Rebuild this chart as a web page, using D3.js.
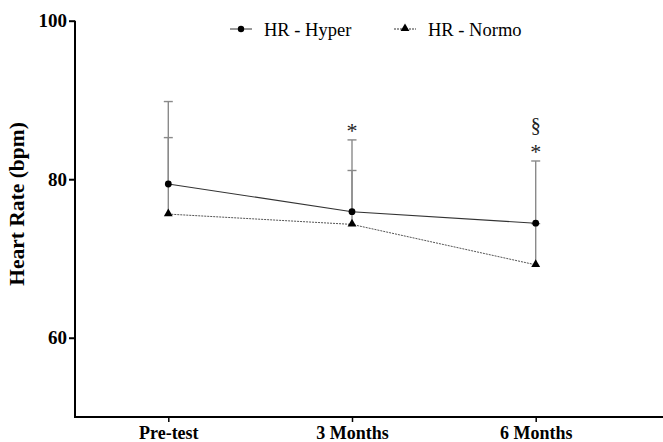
<!DOCTYPE html>
<html>
<head>
<meta charset="utf-8">
<script src="https://cdn.jsdelivr.net/npm/d3@7"></script>
<style>
    body { margin: 0; background: #fff; }
    svg { display: block; font-family: "Liberation Serif", "Times New Roman", serif; }
</style>
</head>
<body>
<div id="chart"></div>
<script>
// values
const categories = ["Pre-test", "3 Months", "6 Months"];
const hyperMean = [79.4, 75.9, 74.45];
const hyperSD = [10.4, 9.06, 7.85];
const normoMean = [75.6, 74.3, 69.2];
const normoSD = [9.65, 6.8, 5.2];
const yTicks = [60, 80, 100];
const markers = [
    {cat: "3 Months", text: "*"},
    {cat: "6 Months", text: "*"},
    {cat: "6 Months", text: "§"}
];

const width = 663, height = 442;

const svg = d3.select("#chart").append("svg")
    .attr("width", width)
    .attr("height", height);

const x = d3.scalePoint()
    .domain(categories)
    .range([168.3, 535.7]);

const y = d3.scaleLinear()
    .domain([50, 100])
    .range([417, 20.7]);

// axes
const yAxis = svg.append("g")
    .attr("transform", "translate(75,0)")
    .call(d3.axisLeft(y).tickValues(yTicks).tickSize(6).tickSizeOuter(0).tickPadding(2));
yAxis.select(".domain").attr("stroke-width", 2).attr("d", "M0," + y(100) + "V" + y(50));
yAxis.selectAll(".tick line").attr("stroke-width", 2);
yAxis.selectAll(".tick text")
    .attr("font-size", 19).attr("font-weight", "bold")
    .attr("font-family", "Liberation Serif").attr("fill", "#000");

const xAxis = svg.append("g")
    .attr("transform", "translate(0," + y(50) + ")")
    .call(d3.axisBottom(x).tickSize(5).tickSizeOuter(0).tickPadding(4));
xAxis.select(".domain").attr("stroke-width", 2).attr("d", "M74,0H663");
xAxis.selectAll(".tick line").attr("stroke-width", 1.5);
xAxis.selectAll(".tick text")
    .attr("font-size", 18).attr("font-weight", "bold")
    .attr("font-family", "Liberation Serif").attr("fill", "#000");

svg.append("text")
    .attr("transform", "translate(24,204) rotate(-90)")
    .attr("text-anchor", "middle")
    .attr("font-size", 21.5)
    .attr("font-weight", "bold")
    .text("Heart Rate (bpm)");

// error bars (upper only)
function errorBars(mean, sd) {
    const g = svg.append("g").attr("stroke", "#8a8a8a").attr("stroke-width", 1.4);
    categories.forEach((c, i) => {
        const top = y(mean[i] + sd[i]);
        g.append("line").attr("x1", x(c)).attr("x2", x(c))
            .attr("y1", y(mean[i])).attr("y2", top);
        g.append("line").attr("x1", x(c) - 4.5).attr("x2", x(c) + 4.5)
            .attr("y1", top).attr("y2", top);
    });
}
errorBars(hyperMean, hyperSD);
errorBars(normoMean, normoSD);

const line = d3.line()
    .x((d, i) => x(categories[i]))
    .y(d => y(d));

svg.append("path")
    .datum(normoMean)
    .attr("d", line)
    .attr("fill", "none")
    .attr("stroke", "#555")
    .attr("stroke-width", 1)
    .attr("stroke-dasharray", "2,1");

svg.append("path")
    .datum(hyperMean)
    .attr("d", line)
    .attr("fill", "none")
    .attr("stroke", "#333")
    .attr("stroke-width", 1.1);

const tri = d3.symbol().type(d3.symbolTriangle).size(34);

svg.selectAll(".normo")
    .data(normoMean).enter()
    .append("path")
    .attr("class", "normo")
    .attr("d", tri)
    .attr("transform", (d, i) => "translate(" + x(categories[i]) + "," + (y(d) - 0.5) + ")")
    .attr("fill", "#000");

svg.selectAll(".hyper")
    .data(hyperMean).enter()
    .append("circle")
    .attr("class", "hyper")
    .attr("cx", (d, i) => x(categories[i]))
    .attr("cy", d => y(d))
    .attr("r", 3.4)
    .attr("fill", "#000");

// significance markers stacked above the highest error bar
markers.forEach(m => {
    const i = categories.indexOf(m.cat);
    const top = Math.min(y(hyperMean[i] + hyperSD[i]), y(normoMean[i] + normoSD[i]));
    svg.append("text")
        .attr("x", x(m.cat))
        .attr("y", m.text === "*" ? top - 2 : top - 29)
        .attr("text-anchor", "middle")
        .attr("font-size", m.text === "*" ? 22 : 20)
        .attr("fill", "#222")
        .text(m.text);
});

// legend
const legend = [
    {label: "HR - Hyper", x: 230, shape: "circle", dash: null},
    {label: "HR - Normo", x: 394, shape: "triangle", dash: "2,1"}
];
legend.forEach(l => {
    const g = svg.append("g").attr("transform", "translate(" + l.x + ",29)");
    g.append("line").attr("x1", 0).attr("x2", 22)
        .attr("stroke", "#333").attr("stroke-width", 1)
        .attr("stroke-dasharray", l.dash);
    if (l.shape === "circle") {
        g.append("circle").attr("cx", 11).attr("r", 3.2).attr("fill", "#000");
    } else {
        g.append("path").attr("d", tri).attr("transform", "translate(11,-0.5)").attr("fill", "#000");
    }
    g.append("text").attr("x", 34).attr("y", 6.5)
        .attr("font-size", 18.5)
        .text(l.label);
});
</script>
</body>
</html>
